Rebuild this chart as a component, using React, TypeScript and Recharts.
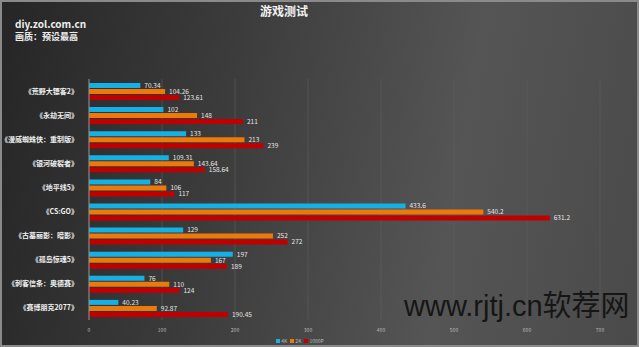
import React from "react"
import {
  BarChart,
  Bar,
  XAxis,
  YAxis,
  CartesianGrid,
  LabelList,
  Legend,
} from "recharts"

// game titles, top to bottom
const games = [
  "《荒野大镖客2》",
  "《永劫无间》",
  "《漫威蜘蛛侠：重制版》",
  "《银河破裂者》",
  "《地平线5》",
  "《CS:GO》",
  "《古墓丽影：暗影》",
  "《孤岛惊魂5》",
  "《刺客信条：奥德赛》",
  "《赛博朋克2077》",
]

const fps4k = [70.34, 102, 133, 109.31, 84, 433.6, 129, 197, 76, 40.23]
const fps2k = [104.26, 148, 213, 143.64, 106, 540.2, 252, 167, 110, 92.87]
const fps1080 = [123.61, 211, 239, 158.64, 117, 631.2, 272, 189, 124, 190.45]

const xTicks = [0, 100, 200, 300, 400, 500, 600, 700]

const series = [
  { key: "k4", name: "4K", color: "#14b1e7" },
  { key: "k2", name: "2K", color: "#ec7a0a" },
  { key: "p1080", name: "1080P", color: "#c00000" },
]

const data = games.map((name, i) => ({
  name,
  k4: fps4k[i],
  k2: fps2k[i],
  p1080: fps1080[i],
}))

const font = "'Noto Sans CJK SC', 'Noto Sans', sans-serif"

const LegendBox = () => (
  <div style={{ display: "flex", justifyContent: "center", gap: 3, fontSize: 5, color: "#bbb", fontFamily: font }}>
    {series.map((s) => (
      <span key={s.key} style={{ display: "flex", alignItems: "center", gap: 1 }}>
        <span style={{ width: 4, height: 4, background: s.color, display: "inline-block" }} />
        {s.name}
      </span>
    ))}
  </div>
)

export default function App() {
  return (
    <div
      style={{
        position: "absolute",
        left: 0,
        top: 0,
        width: 639,
        height: 347,
        boxSizing: "border-box",
        border: "2px solid #8a8a8a",
        background: "linear-gradient(100deg, #262626 0%, #3c3c3c 35%, #555 70%, #4a4a4a 100%)",
        overflow: "hidden",
        fontFamily: font,
      }}
    >
      <div style={{ position: "absolute", left: 258, top: 3, fontSize: 12, lineHeight: 1, fontWeight: "bold", color: "#f2f2f2" }}>
        游戏测试
      </div>
      <div style={{ position: "absolute", left: 13, top: 17, fontSize: 10, lineHeight: 1, fontWeight: "bold", color: "#eee" }}>
        diy.zol.com.cn
      </div>
      <div style={{ position: "absolute", left: 13, top: 30, fontSize: 9, lineHeight: 1, fontWeight: "bold", color: "#eee" }}>
        画质：预设最高
      </div>
      <div style={{ position: "absolute", left: -2, top: -2 }}>
        <BarChart
          width={639}
          height={347}
          data={data}
          layout="vertical"
          margin={{ top: 79, right: 39, bottom: 4, left: 0 }}
          barSize={5}
          barGap={1}
        >
          <CartesianGrid horizontal={false} stroke="#5e5e5e" strokeWidth={0.6} />
          <XAxis
            type="number"
            domain={[0, 700]}
            ticks={xTicks}
            axisLine={false}
            tickLine={false}
            height={16}
            tick={{ fontSize: 5, fill: "#bbb" }}
          />
          <YAxis
            type="category"
            dataKey="name"
            width={89}
            axisLine={{ stroke: "#8c8c8c" }}
            tickLine={false}
            tick={{ fontSize: 7, fill: "#f0f0f0", fontWeight: "bold" }}
            tickMargin={5}
          />
          <Legend verticalAlign="bottom" content={<LegendBox />} wrapperStyle={{ bottom: 3 }} />
          {series.map((s) => (
            <Bar key={s.key} dataKey={s.key} name={s.name} fill={s.color} isAnimationActive={false}>
              <LabelList dataKey={s.key} position="right" offset={4} style={{ fontSize: 6.5, fill: "#e6e6e6" }} />
            </Bar>
          ))}
        </BarChart>
      </div>
      <div
        style={{
          position: "absolute",
          left: 402,
          top: 280,
          fontSize: 29,
          color: "#161616",
          fontFamily: "'Liberation Sans', Arial, sans-serif",
          whiteSpace: "nowrap",
        }}
      >
        www.rjtj.cn<span style={{ fontFamily: font }}>软荐网</span>
      </div>
    </div>
  )
}
